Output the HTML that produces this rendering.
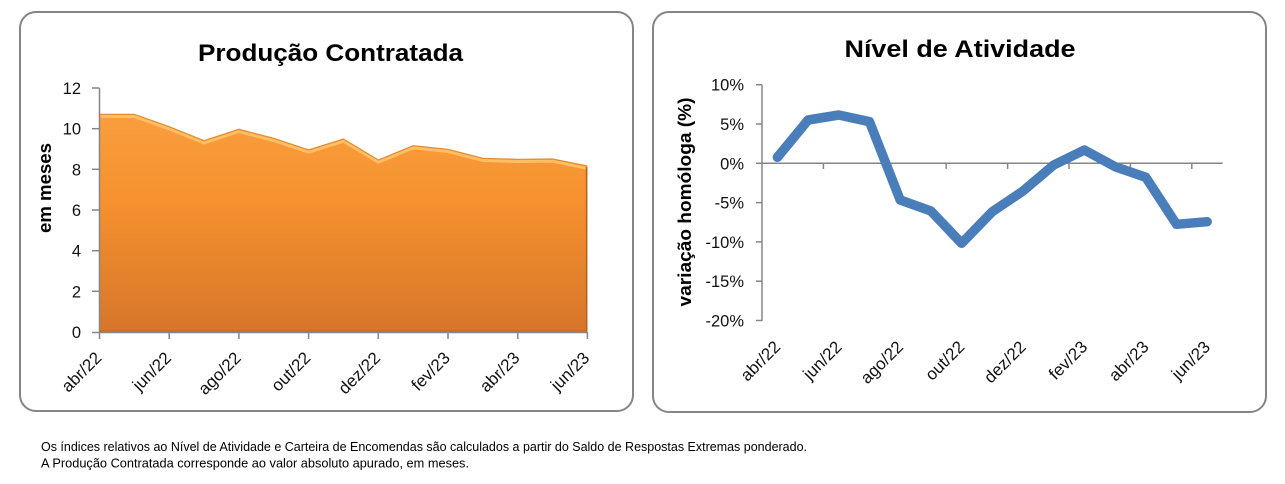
<!DOCTYPE html>
<html><head><meta charset="utf-8"><style>
html,body{margin:0;padding:0;background:#fff;}
svg{display:block;}
text{font-family:"Liberation Sans",sans-serif;}
</style></head><body>
<svg width="1285" height="484" viewBox="0 0 1285 484" xmlns="http://www.w3.org/2000/svg">
<defs>
<linearGradient id="og" x1="0" y1="88" x2="0" y2="332" gradientUnits="userSpaceOnUse">
<stop offset="0" stop-color="#FBA142"/>
<stop offset="0.45" stop-color="#F6922F"/>
<stop offset="1" stop-color="#D7762A"/>
</linearGradient>
</defs>
<rect x="0" y="0" width="1285" height="484" fill="#fff"/>
<!-- panels -->
<rect x="20" y="12" width="613" height="399" rx="16" ry="16" fill="#fff" stroke="#858585" stroke-width="2"/>
<rect x="653" y="12" width="613" height="400" rx="16" ry="16" fill="#fff" stroke="#858585" stroke-width="2"/>

<!-- LEFT CHART -->
<text x="330.5" y="61" font-size="24" font-weight="bold" text-anchor="middle" textLength="265" lengthAdjust="spacingAndGlyphs" fill="#000">Produção Contratada</text>
<text transform="translate(51,188) rotate(-90)" font-size="18" font-weight="bold" text-anchor="middle" textLength="90" lengthAdjust="spacingAndGlyphs" fill="#000">em meses</text>
<!-- area -->
<polygon fill="url(#og)" points="99.5,332 99.5,114.3 134.35,114.3 169.2,126.7 204.05,140.7 238.9,129.3 273.75,138.3 308.6,150 343.45,139 378.3,160 413.15,145.7 448,149.3 482.85,158.3 517.7,159.3 552.55,159 587.4,166 587.4,332"/>
<polyline fill="none" stroke="#FFC870" stroke-width="3" stroke-opacity="0.8" transform="translate(0,2.2)" points="100.5,114.3 134.35,114.3 169.2,126.7 204.05,140.7 238.9,129.3 273.75,138.3 308.6,150 343.45,139 378.3,160 413.15,145.7 448,149.3 482.85,158.3 517.7,159.3 552.55,159 586.4,166"/>
<polyline fill="none" stroke="#E8892C" stroke-width="1.2" points="99.5,114.3 134.35,114.3 169.2,126.7 204.05,140.7 238.9,129.3 273.75,138.3 308.6,150 343.45,139 378.3,160 413.15,145.7 448,149.3 482.85,158.3 517.7,159.3 552.55,159 587.4,166"/>
<line x1="586.6" y1="167" x2="586.6" y2="331" stroke="#B8621F" stroke-width="1.6"/>
<line x1="100" y1="330.8" x2="587" y2="330.8" stroke="#B8621F" stroke-width="1.2" stroke-opacity="0.6"/>
<!-- axes -->
<g stroke="#868686" stroke-width="1.5">
<line x1="99.5" y1="88" x2="99.5" y2="332.5"/>
<line x1="99" y1="332.5" x2="588" y2="332.5"/>
<line x1="92" y1="88" x2="99.5" y2="88"/>
<line x1="92" y1="128.7" x2="99.5" y2="128.7"/>
<line x1="92" y1="169.3" x2="99.5" y2="169.3"/>
<line x1="92" y1="210" x2="99.5" y2="210"/>
<line x1="92" y1="250.7" x2="99.5" y2="250.7"/>
<line x1="92" y1="291.3" x2="99.5" y2="291.3"/>
<line x1="92" y1="332.5" x2="99.5" y2="332.5"/>
<line x1="99.5" y1="332" x2="99.5" y2="339"/>
<line x1="169.2" y1="332" x2="169.2" y2="339"/>
<line x1="238.9" y1="332" x2="238.9" y2="339"/>
<line x1="308.6" y1="332" x2="308.6" y2="339"/>
<line x1="378.3" y1="332" x2="378.3" y2="339"/>
<line x1="448" y1="332" x2="448" y2="339"/>
<line x1="517.7" y1="332" x2="517.7" y2="339"/>
<line x1="587.4" y1="332" x2="587.4" y2="339"/>
</g>
<g font-size="16.5" fill="#111" text-anchor="end">
<text x="81" y="94">12</text>
<text x="81" y="134.7">10</text>
<text x="81" y="175.3">8</text>
<text x="81" y="216">6</text>
<text x="81" y="256.7">4</text>
<text x="81" y="297.3">2</text>
<text x="81" y="338">0</text>
</g>
<g font-size="17" fill="#111" text-anchor="end">
<text transform="translate(102.5,359) rotate(-45)">abr/22</text>
<text transform="translate(172.2,359) rotate(-45)">jun/22</text>
<text transform="translate(241.9,359) rotate(-45)">ago/22</text>
<text transform="translate(311.6,359) rotate(-45)">out/22</text>
<text transform="translate(381.3,359) rotate(-45)">dez/22</text>
<text transform="translate(451,359) rotate(-45)">fev/23</text>
<text transform="translate(520.7,359) rotate(-45)">abr/23</text>
<text transform="translate(590.4,359) rotate(-45)">jun/23</text>
</g>

<!-- RIGHT CHART -->
<text x="960" y="57" font-size="24" font-weight="bold" text-anchor="middle" textLength="231" lengthAdjust="spacingAndGlyphs" fill="#000">Nível de Atividade</text>
<text transform="translate(691,202) rotate(-90)" font-size="18" font-weight="bold" text-anchor="middle" textLength="209" lengthAdjust="spacingAndGlyphs" fill="#000">variação homóloga (%)</text>
<g stroke="#868686" stroke-width="1.5">
<line x1="762" y1="84.7" x2="762" y2="321"/>
<line x1="756" y1="84.7" x2="762" y2="84.7"/>
<line x1="756" y1="124" x2="762" y2="124"/>
<line x1="756" y1="163.3" x2="762" y2="163.3"/>
<line x1="756" y1="202.6" x2="762" y2="202.6"/>
<line x1="756" y1="241.9" x2="762" y2="241.9"/>
<line x1="756" y1="281.2" x2="762" y2="281.2"/>
<line x1="756" y1="320.5" x2="762" y2="320.5"/>
<line x1="762" y1="163.3" x2="1222.7" y2="163.3"/>
<line x1="823.4" y1="163" x2="823.4" y2="169"/>
<line x1="884.8" y1="163" x2="884.8" y2="169"/>
<line x1="946.2" y1="163" x2="946.2" y2="169"/>
<line x1="1007.6" y1="163" x2="1007.6" y2="169"/>
<line x1="1069" y1="163" x2="1069" y2="169"/>
<line x1="1130.4" y1="163" x2="1130.4" y2="169"/>
<line x1="1191.8" y1="163" x2="1191.8" y2="169"/>
</g>
<g font-size="16.5" fill="#111" text-anchor="end">
<text x="744" y="90.7">10%</text>
<text x="744" y="130">5%</text>
<text x="744" y="169.3">0%</text>
<text x="744" y="208.6">-5%</text>
<text x="744" y="247.9">-10%</text>
<text x="744" y="287.2">-15%</text>
<text x="744" y="326.5">-20%</text>
</g>
<polyline fill="none" stroke="#4A7EBB" stroke-width="9.5" stroke-linejoin="round" stroke-linecap="round" points="777.4,157.3 808.1,120 838.8,115 869.5,121.7 900.2,200 930.9,211 961.6,243.3 992.3,211.7 1023,191 1053.7,165 1084.4,150 1115.1,166.7 1145.8,177.3 1176.5,224.3 1207.2,221.7"/>
<g font-size="17" fill="#111" text-anchor="end">
<text transform="translate(781.4,348) rotate(-45)">abr/22</text>
<text transform="translate(842.8,348) rotate(-45)">jun/22</text>
<text transform="translate(904.2,348) rotate(-45)">ago/22</text>
<text transform="translate(965.6,348) rotate(-45)">out/22</text>
<text transform="translate(1027,348) rotate(-45)">dez/22</text>
<text transform="translate(1088.4,348) rotate(-45)">fev/23</text>
<text transform="translate(1149.8,348) rotate(-45)">abr/23</text>
<text transform="translate(1211.2,348) rotate(-45)">jun/23</text>
</g>

<!-- footer -->
<text x="41" y="451" font-size="12.5" fill="#000" textLength="766" lengthAdjust="spacingAndGlyphs">Os índices relativos ao Nível de Atividade e Carteira de Encomendas são calculados a partir do Saldo de Respostas Extremas ponderado.</text>
<text x="41" y="467.5" font-size="12.5" fill="#000" textLength="428" lengthAdjust="spacingAndGlyphs">A Produção Contratada corresponde ao valor absoluto apurado, em meses.</text>
</svg>
</body></html>
